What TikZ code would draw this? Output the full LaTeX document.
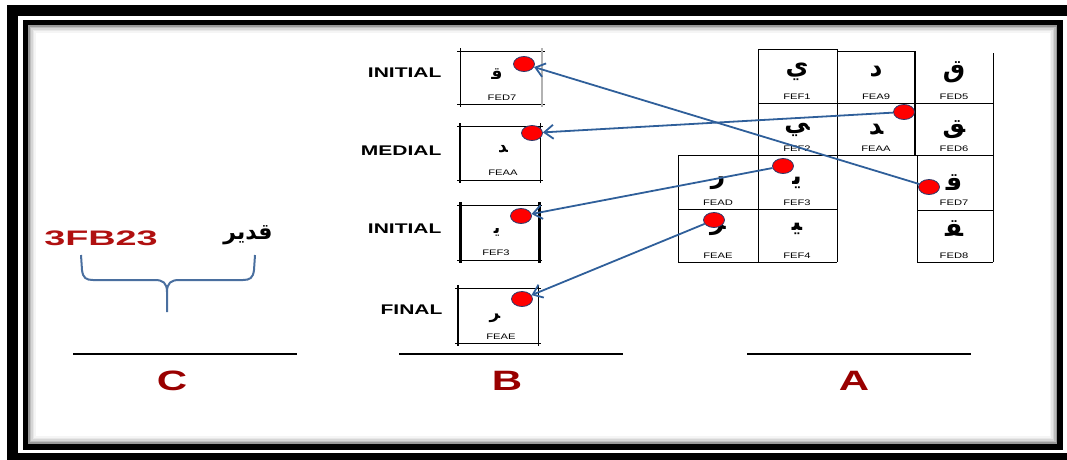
\documentclass[tikz,border=0pt]{standalone}
\usepackage{fontspec}
\setmainfont{Liberation Sans}
\newfontfamily\arabicfont[Script=Arabic]{DejaVu Sans}
\TeXXeTstate=1
\usetikzlibrary{arrows.meta,shapes.geometric}

\definecolor{formred}{HTML}{990000}
\definecolor{codered}{HTML}{B01010}
\definecolor{arrowblue}{HTML}{2F5F9A}
\definecolor{bracketblue}{HTML}{4A6F9F}
\definecolor{dotedge}{HTML}{2B3A6B}

% stretched text and single presentation-form letters
\newcommand{\wide}[2][1.5]{\scalebox{#1}[1]{#2}}
\newcommand{\glyph}[1]{{\arabicfont\bfseries\char"#1\relax}}
% open box with the lines running a little past the corners
\newcommand{\formbox}[4]{%
  \draw[line width=1pt] (#1-3,#2) -- (#3+3,#2) (#1-3,#4) -- (#3+3,#4)
                        (#1,#2-3) -- (#1,#4+3);}

\tikzset{
  formlabel/.style={anchor=east, font=\bfseries\fontsize{14}{16}\selectfont},
  hexcode/.style={font=\fontsize{8}{9}\selectfont, inner sep=0pt},
  bigglyph/.style={font=\fontsize{25}{28}\selectfont, inner sep=0pt},
  smallglyph/.style={font=\fontsize{17}{20}\selectfont, inner sep=0pt},
  reddot/.style={ellipse, fill=red, draw=dotedge, line width=0.8pt,
    minimum width=21pt, minimum height=15pt, inner sep=0pt},
  maplink/.style={arrowblue, line width=1.8pt,
    -{Straight Barb[length=9pt,width=14pt]}},
  colname/.style={text=formred, font=\bfseries\fontsize{28}{30}\selectfont},
}

\begin{document}
\begin{tikzpicture}[x=1pt,y=-1pt]
  \useasboundingbox (0,0) rectangle (1067,459);

  % frame with inner shadow
  \draw[line width=11pt] (12.5,10.5) rectangle (1085,458.5);
  \draw[line width=6pt] (25.5,22.5) rectangle (1060,446.5);
  \foreach \d/\s in {3.5/40,5/26,6.5/16,8/9,9.5/4}
    \draw[black!\s, line width=1.5pt] (25.5+\d,22.5+\d) rectangle (1060-\d,446.5-\d);

  % ---- A : table of forms
  \draw[line width=1pt] (758,49) -- (837,49) (837,51) -- (915,51)
    (758,103) -- (993,103) (678,155) -- (993,155)
    (678,209) -- (837,209) (917,210) -- (993,210)
    (678,262) -- (837,262) (917,262) -- (993,262)
    (678,155) -- (678,262) (758,49) -- (758,262) (837,49) -- (837,262)
    (917,155) -- (917,262) (993,53) -- (993,262);
  \draw[line width=2pt] (915,51) -- (915,155);
  \foreach \x/\gy/\ly/\g in {797/72/97/FEF1, 797/130/149/FEF2, 797/183/203/FEF3,
      797/229/256/FEF4, 876/72/97/FEA9, 876/130/149/FEAA, 954/72/97/FED5,
      954/130/149/FED6, 954/183/203/FED7, 954/229/256/FED8, 718/183/203/FEAD,
      718/229/256/FEAE}{
    \node[bigglyph] (g-\g) at (\x,\gy) {\glyph{\g}};
    \node[hexcode] (c-\g) at (\x,\ly) {\wide[1.4]{\g}};
  }
  \draw[line width=2pt] (747,354) -- (971,354);
  \node[colname] (colA) at (854,381) {\wide{A}};

  % ---- B : the chosen forms
  \formbox{460}{51}{542}{104}
  \draw[gray!60, line width=1.2pt] (542,48) -- (542,107);
  \formbox{460}{126}{540}{180}
  \draw[line width=1pt] (540,123) -- (540,183);
  \formbox{460}{205}{539}{260}
  \draw[line width=3pt] (539,202) -- (539,263);
  \formbox{458}{288}{538}{343}
  \draw[line width=1pt] (538,285) -- (538,346);
  \draw[line width=1.2pt] (458,285) -- (458,346) (460,123) -- (460,183);
  \draw[line width=3pt] (460,202) -- (460,263);

  \node[formlabel] (f1) at (445,73)  {\wide[1.5]{INITIAL}};
  \node[formlabel] (f2) at (445,151) {\wide[1.5]{MEDIAL}};
  \node[formlabel] (f3) at (445,229) {\wide[1.5]{INITIAL}};
  \node[formlabel] (f4) at (446,310) {\wide[1.5]{FINAL}};

  \node[smallglyph] (b1g) at (497,74)  {\glyph{FED7}};
  \node[hexcode]    (b1c) at (502,98)  {\wide[1.4]{FED7}};
  \node[smallglyph] (b2g) at (503,149) {\glyph{FEAA}};
  \node[hexcode]    (b2c) at (503,173) {\wide[1.4]{FEAA}};
  \node[smallglyph] (b3g) at (497,232) {\glyph{FEF3}};
  \node[hexcode]    (b3c) at (496,253) {\wide[1.4]{FEF3}};
  \node[smallglyph] (b4g) at (495,318) {\glyph{FEAE}};
  \node[hexcode]    (b4c) at (501,337) {\wide[1.4]{FEAE}};

  \draw[line width=2pt] (399,354) -- (623,354);
  \node[colname] (colB) at (507,381) {\wide{B}};

  % ---- C : the word and its code
  \node[text=codered, font=\bfseries\fontsize{21}{24}\selectfont] (code) at (101,238)
    {\wide[1.8]{3FB23}};
  \node[font=\bfseries\fontsize{22}{26}\selectfont] (word) at (248,235)
    {\arabicfont\beginR قدير\endR};
  \draw[bracketblue, line width=2pt]
    (81,255) -- (82,270) .. controls (83,278) and (86,280) .. (93,280) -- (155,280)
    .. controls (163,280) and (167,283) .. (167,292) -- (167,312)
    (255,255) -- (254,270) .. controls (253,278) and (250,280) .. (243,280) -- (179,280)
    .. controls (171,280) and (167,283) .. (167,292);
  \draw[line width=2pt] (73,354) -- (297,354);
  \node[colname] (colC) at (172,381) {\wide{C}};

  % ---- dots and the mapping arrows
  \node[reddot] (aq) at (929,187) {};
  \node[reddot] (ad) at (904,112) {};
  \node[reddot] (ay) at (783,166) {};
  \node[reddot] (ar) at (714,220) {};
  \node[reddot] (bq) at (524,64)  {};
  \node[reddot] (bd) at (532,133) {};
  \node[reddot] (by) at (521,216) {};
  \node[reddot] (br) at (522,299) {};
  \draw[maplink] (aq) -- (bq);
  \draw[maplink] (ad) -- (bd);
  \draw[maplink] (ay) -- (by);
  \draw[maplink] (ar) -- (br);
\end{tikzpicture}
\end{document}
